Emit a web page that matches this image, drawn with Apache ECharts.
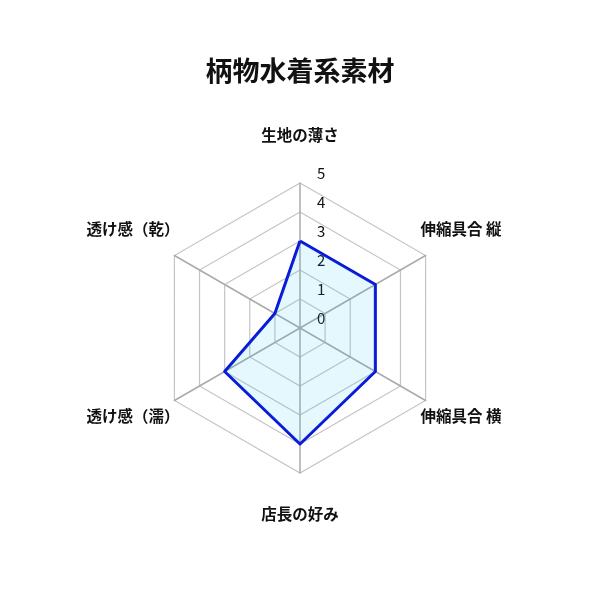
<!DOCTYPE html>
<html>
<head>
<meta charset="utf-8">
<script src="https://cdn.jsdelivr.net/npm/echarts@6/dist/echarts.min.js"></script>
<style>
  html, body { margin: 0; padding: 0; background: #fff; }
  #chart { width: 600px; height: 600px; }
</style>
</head>
<body>
<div id="chart"></div>
<script>
'use strict';

// indicators, counter-clockwise from the top
const indicatorNames = ['生地の薄さ', '透け感（乾）', '透け感（濡）', '店長の好み', '伸縮具合 横', '伸縮具合 縦'];
const nameStyles = ['t', 'ul', 'll', 'b', 'lr', 'ur'];
const scores = [3, 1, 3, 4, 3, 3];
const maxScore = 5;

const chart = echarts.init(document.getElementById('chart'));
const font = '"Noto Sans CJK JP", sans-serif';

function nameStyle(pad) {
  return { padding: pad, fontFamily: font, fontSize: 15.5, fontWeight: 'bold', color: '#111' };
}

const option = {
  title: {
    text: '柄物水着系素材',
    left: 'center',
    top: 52,
    textStyle: { fontFamily: font, fontSize: 27, fontWeight: 'bold', color: '#111' }
  },
  radar: {
    center: [300, 328],
    radius: 145,
    startAngle: 90,
    shape: 'polygon',
    splitNumber: 5,
    nameGap: -6,
    // only the top axis carries the 0-5 labels
    indicator: indicatorNames.map(function (n, i) {
      return { name: n, min: 0, max: maxScore, axisLabel: { show: i === 0 } };
    }),
    axisName: {
      color: '#111',
      fontFamily: font,
      fontSize: 15.5,
      fontWeight: 'bold',
      formatter: function (value) {
        const i = indicatorNames.indexOf(value);
        return '{' + nameStyles[i] + '|' + value + '}';
      },
      rich: {
        t: nameStyle([0, 0, 46, 0]),
        b: nameStyle([39, 0, 0, 0]),
        ur: nameStyle([0, 0, 59, 0]),
        ul: nameStyle([0, 0, 59, 0]),
        lr: nameStyle([37, 0, 0, 0]),
        ll: nameStyle([37, 0, 0, 0])
      }
    },
    axisLine: { lineStyle: { color: '#aaa', width: 1.5 } },
    splitLine: { lineStyle: { color: '#c4c4c4', width: 1.2 } },
    splitArea: { show: false },
    axisTick: { show: false },
    axisLabel: {
      show: true,
      color: '#111',
      fontFamily: font,
      fontSize: 15,
      margin: -17,
      align: 'left',
      verticalAlign: 'bottom',
      padding: [0, 0, 2, 0]
    }
  },
  series: [
    {
      type: 'radar',
      symbol: 'none',
      lineStyle: { color: '#0a14d8', width: 3 },
      areaStyle: { color: 'rgba(0, 190, 240, 0.15)' },
      data: [{ value: scores }]
    }
  ]
};
chart.setOption(option);
</script>
</body>
</html>
